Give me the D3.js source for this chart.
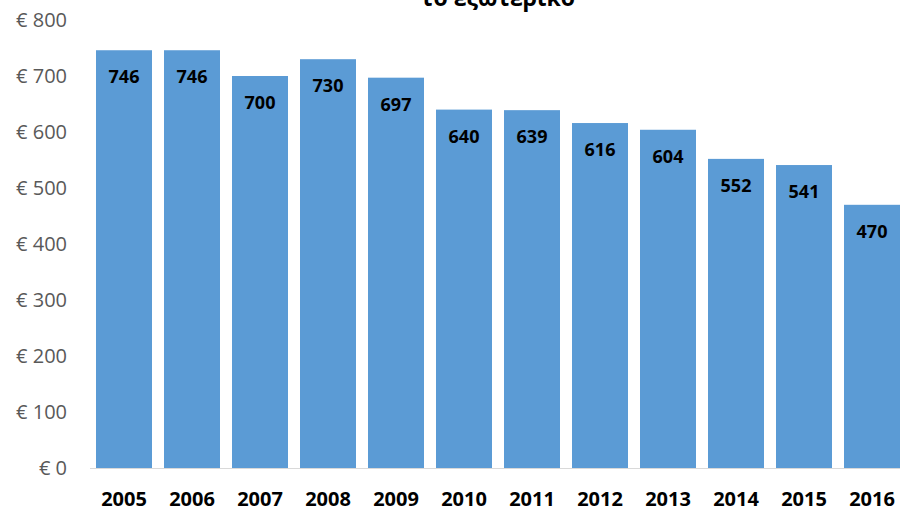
<!DOCTYPE html>
<html>
<head>
<meta charset="utf-8">
<script src="https://cdn.jsdelivr.net/npm/d3@7"></script>
<style>
  body { margin: 0; background: #fff; }
  svg { display: block; font-family: "Open Sans", sans-serif; }
</style>
</head>
<body>
<div id="graph"></div>
<script>
var years = ['2005', '2006', '2007', '2008', '2009', '2010', '2011', '2012', '2013', '2014', '2015', '2016']
var values = [746, 746, 700, 730, 697, 640, 639, 616, 604, 552, 541, 470]
var yTicks = [0, 100, 200, 300, 400, 500, 600, 700, 800]
var title = 'το εξωτερικό'

var width = 900, height = 509

var svg = d3.select('#graph').append('svg')
    .attr('width', width)
    .attr('height', height)

var x = d3.scaleBand()
    .domain(years)
    .range([90, 906])
    .paddingInner(12 / 68)
    .paddingOuter(6 / 68)

var y = d3.scaleLinear()
    .domain([0, 800])
    .range([468, 20])

// title, mostly cut off by the top edge
svg.append('text')
    .attr('x', 498)
    .attr('y', 6)
    .attr('text-anchor', 'middle')
    .style('font-size', '23px')
    .style('font-weight', 'bold')
    .text(title)

// y axis labels
svg.append('g').selectAll('text')
    .data(yTicks)
  .enter().append('text')
    .attr('x', 67)
    .attr('y', function(d){ return y(d) })
    .attr('dy', '.36em')
    .attr('text-anchor', 'end')
    .style('font-size', '20px')
    .style('fill', '#595959')
    .text(function(d){ return '€ ' + d })

// bars
svg.append('g').selectAll('rect')
    .data(values)
  .enter().append('rect')
    .attr('x', function(d, i){ return x(years[i]) })
    .attr('y', function(d){ return y(d) })
    .attr('width', x.bandwidth())
    .attr('height', function(d){ return y(0) - y(d) })
    .style('fill', '#5b9bd5')

// value labels
svg.append('g').selectAll('text')
    .data(values)
  .enter().append('text')
    .attr('x', function(d, i){ return x(years[i]) + x.bandwidth() / 2 })
    .attr('y', function(d){ return y(d) + 33 })
    .attr('text-anchor', 'middle')
    .style('font-size', '18px')
    .style('font-weight', 'bold')
    .text(function(d){ return d })

// baseline
svg.append('line')
    .attr('x1', 90).attr('x2', 900)
    .attr('y1', y(0) + 0.5).attr('y2', y(0) + 0.5)
    .style('stroke', '#d9d9d9')
    .style('stroke-width', 1)

// x axis labels
svg.append('g').selectAll('text')
    .data(years)
  .enter().append('text')
    .attr('x', function(d){ return x(d) + x.bandwidth() / 2 })
    .attr('y', 506)
    .attr('text-anchor', 'middle')
    .style('font-size', '20px')
    .style('font-weight', 'bold')
    .text(function(d){ return d })
</script>
</body>
</html>
